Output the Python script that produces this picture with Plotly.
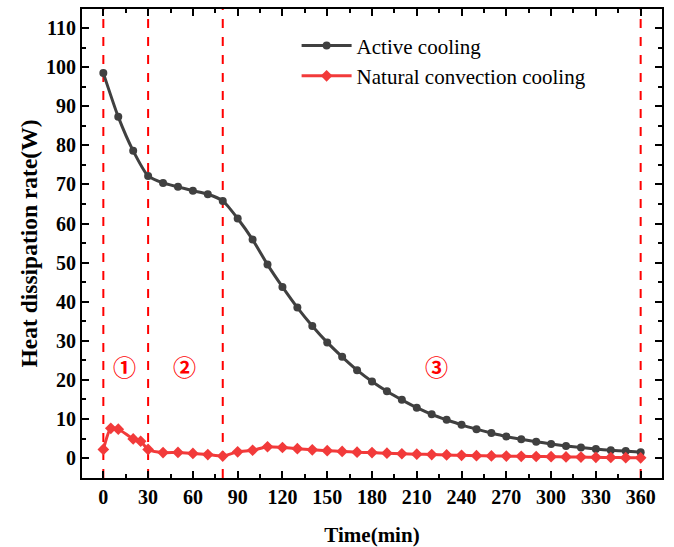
import plotly.graph_objects as go

# ---- data ----
time_active = list(range(0, 361, 10))
active_cooling = [98.5, 87.3, 78.6, 72.2, 70.4, 69.4, 68.4, 67.5, 65.8, 61.3,
                  55.9, 49.5, 43.8, 38.5, 33.8, 29.6, 25.9, 22.5, 19.6, 17.1,
                  14.9, 12.9, 11.2, 9.8, 8.5, 7.4, 6.4, 5.5, 4.8, 4.2,
                  3.6, 3.1, 2.7, 2.3, 2.0, 1.8, 1.5]

time_natural = [0, 5, 10, 20, 25, 30] + list(range(40, 361, 10))
natural_cooling = [2.2, 7.6, 7.4, 4.9, 4.3, 2.2,
                   1.4, 1.45, 1.2, 0.9, 0.5, 1.6, 2.0, 2.9, 2.7, 2.4,
                   2.1, 1.9, 1.7, 1.5, 1.4, 1.25, 1.1, 1.0, 0.9, 0.8,
                   0.7, 0.6, 0.55, 0.5, 0.45, 0.4, 0.35, 0.3, 0.25, 0.2,
                   0.15, 0.1, 0.05]

stage_bounds = [0, 30, 80, 360]
stage_labels = ["①", "②", "③"]
stage_label_x = [14.5, 54.5, 223]
stage_label_y = [23.5, 23.5, 23.5]

x_ticks = list(range(0, 361, 30))
y_ticks = list(range(0, 111, 10))

serif = "Liberation Serif, Times New Roman, serif"

fig = go.Figure()
fig.add_trace(go.Scatter(
    x=time_active, y=active_cooling, name="Active cooling",
    mode="lines+markers",
    line=dict(color="#404040", width=3, shape="spline", smoothing=0.6),
    marker=dict(symbol="circle", size=8, color="#404040"),
))
fig.add_trace(go.Scatter(
    x=time_natural, y=natural_cooling, name="Natural convection cooling",
    mode="lines+markers",
    line=dict(color="#f23a3a", width=3, shape="spline", smoothing=0.6),
    marker=dict(symbol="diamond", size=9, color="#f23a3a"),
))

for xb in stage_bounds:
    fig.add_shape(type="line", x0=xb, x1=xb, y0=0, y1=1, xref="x", yref="paper",
                  line=dict(color="#ff0000", width=2, dash="dash"), layer="below")

for lab, lx, ly in zip(stage_labels, stage_label_x, stage_label_y):
    fig.add_annotation(x=lx, y=ly, text=lab, showarrow=False,
                       font=dict(family="Noto Sans CJK SC", size=23, color="#ff0000", weight="bold"))

axis_common = dict(
    showline=True, linecolor="black", linewidth=2, mirror="ticks",
    ticks="inside", ticklen=7, tickwidth=2, tickcolor="black",
    showgrid=False, zeroline=False, automargin=False,
    tickfont=dict(family=serif, size=20, color="black", weight="bold"),
)

fig.update_xaxes(
    range=[-14.3, 374.3], tickvals=x_ticks,
    minor=dict(ticks="inside", ticklen=4, tickwidth=2, dtick=15, tick0=0, tickcolor="black"),
    title=dict(text="Time(min)", font=dict(family=serif, size=21, color="black", weight="bold"), standoff=22),
    **axis_common,
)
fig.update_yaxes(
    range=[-5.1, 114.9], tickvals=y_ticks,
    minor=dict(ticks="inside", ticklen=4, tickwidth=2, dtick=5, tick0=0, tickcolor="black"),
    title=dict(text="Heat dissipation rate(W)", font=dict(family=serif, size=23.5, color="black", weight="bold"), standoff=2),
    **axis_common,
)

fig.update_layout(
    width=674, height=547,
    margin=dict(l=82, r=12, t=9, b=69),
    plot_bgcolor="white", paper_bgcolor="white",
    legend=dict(x=0.37, y=0.965, xanchor="left", yanchor="top",
                font=dict(family=serif, size=21, color="black"),
                bgcolor="rgba(0,0,0,0)", tracegroupgap=0, itemwidth=50),
    showlegend=True,
)

fig.write_html("out.html")
